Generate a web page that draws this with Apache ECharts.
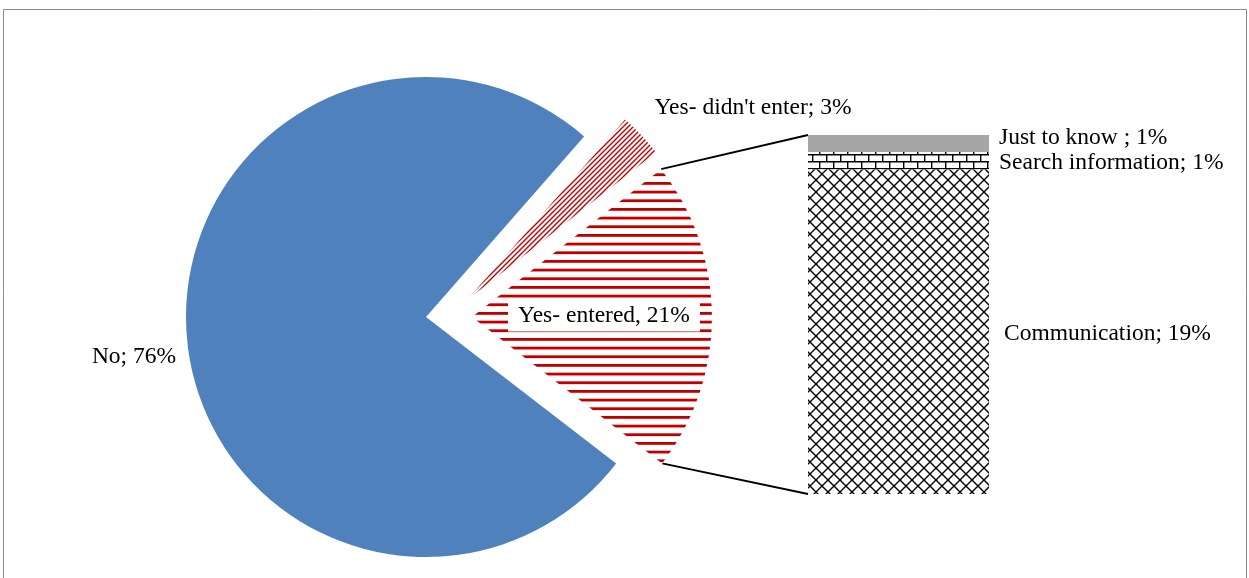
<!DOCTYPE html>
<html>
<head>
<meta charset="utf-8">
<script src="https://cdn.jsdelivr.net/npm/echarts@6/dist/echarts.min.js"></script>
<style>
html,body{margin:0;padding:0;background:#fff;}
#chart{width:1249px;height:578px;}
</style>
</head>
<body>
<div id="chart"></div>
<script>
// ---- data ----
const pieNames = ["No", "Yes- didn't enter", "Yes- entered"];
const pieValues = [76, 3, 21];
const pieSeparators = ["; ", "; ", ", "];
const barNames = ["Communication", "Search information", "Just to know "];
const barValues = [19, 1, 1];

// ---- patterns ----
function makeCanvas(w, h, draw) {
  const c = document.createElement('canvas');
  c.width = w; c.height = h;
  const ctx = c.getContext('2d');
  ctx.fillStyle = '#ffffff';
  ctx.fillRect(0, 0, w, h);
  draw(ctx, w, h);
  return c;
}
const hStripe = makeCanvas(8, 26, (ctx, w) => {
  ctx.fillStyle = '#C00000';
  [0, 8.67, 17.33].forEach(y => ctx.fillRect(0, y, w, 2.8));
});
const diagStripe = makeCanvas(5, 5, (ctx, w, h) => {
  ctx.strokeStyle = '#C00000';
  ctx.lineWidth = 1.4;
  ctx.beginPath();
  ctx.moveTo(-1, h + 1); ctx.lineTo(w + 1, -1);
  ctx.moveTo(-1, 1); ctx.lineTo(1, -1);
  ctx.moveTo(w - 1, h + 1); ctx.lineTo(w + 1, h - 1);
  ctx.stroke();
});
const brick = makeCanvas(14, 14, (ctx) => {
  ctx.strokeStyle = '#000';
  ctx.lineWidth = 1.4;
  ctx.beginPath();
  ctx.moveTo(0, 0.7); ctx.lineTo(14, 0.7);
  ctx.moveTo(0, 7.7); ctx.lineTo(14, 7.7);
  ctx.moveTo(0.7, 0); ctx.lineTo(0.7, 7);
  ctx.moveTo(7.7, 7); ctx.lineTo(7.7, 14);
  ctx.stroke();
});
const diamond = makeCanvas(12, 12, (ctx, w, h) => {
  ctx.strokeStyle = '#000';
  ctx.lineWidth = 1.4;
  ctx.beginPath();
  ctx.moveTo(0, 0); ctx.lineTo(w, h);
  ctx.moveTo(w, 0); ctx.lineTo(0, h);
  ctx.stroke();
});

const pieFills = ['#4F81BD', { image: diagStripe, repeat: 'repeat' }, { image: hStripe, repeat: 'repeat' }];
const barFills = [{ image: diamond, repeat: 'repeat' }, { image: brick, repeat: 'repeat' }, '#A6A6A6'];

// ---- layout ----
const FONT = 'Liberation Serif';
const FS = 23.5;
const R = 240;
const total = pieValues.reduce((a, b) => a + b, 0);
const EDGE = 48.8;                                   // upper edge of the "No" gap (degrees)
const START = (EDGE + 360 * pieValues[0] / total) % 360; // "No" starts here, clockwise
const pieCenters = [[426, 317], [467, 300], [472, 317]];
const pieLabelPos = [[134, 357], [753, 108], [604, 316]];

function pieSeries(visibleIdx) {
  return {
    type: 'pie',
    silent: true,
    center: pieCenters[visibleIdx],
    radius: R,
    startAngle: START,
    clockwise: true,
    avoidLabelOverlap: false,
    animation: false,
    labelLine: { show: false },
    labelLayout: function () {
      return { x: pieLabelPos[visibleIdx][0], y: pieLabelPos[visibleIdx][1], align: 'center', verticalAlign: 'middle' };
    },
    data: pieNames.map((n, i) => ({
      name: n,
      value: pieValues[i],
      itemStyle: { color: i === visibleIdx ? pieFills[i] : 'rgba(0,0,0,0)', borderWidth: 0 },
      label: i === visibleIdx ? {
        show: true,
        position: 'inside',
        formatter: n + pieSeparators[i] + pieValues[i] + '%',
        fontFamily: FONT, fontSize: FS, color: '#000',
        backgroundColor: i === 2 ? '#fff' : 'transparent',
        padding: i === 2 ? [4, 10, 3, 10] : 0
      } : { show: false }
    }))
  };
}

const barLabelCfg = [
  { distance: 15, offset: [0, 2.5] },
  { distance: 10, offset: [0, 2.5] },
  { distance: 10, offset: [0, -6] }
];

const chart = echarts.init(document.getElementById('chart'), null, { renderer: 'canvas' });
const GRID = { left: 808, top: 135, width: 181, height: 359 };
chart.setOption({
  animation: false,
  backgroundColor: '#fff',
  grid: GRID,
  xAxis: { type: 'category', data: ['bar'], show: false },
  yAxis: { type: 'value', min: 0, max: barValues.reduce((a, b) => a + b, 0), show: false },
  series: [
    pieSeries(0), pieSeries(1), pieSeries(2),
    ...barNames.map((n, i) => ({
      type: 'bar',
      name: n,
      stack: 'other',
      silent: true,
      barWidth: '100%',
      data: [barValues[i]],
      itemStyle: { color: barFills[i] },
      label: {
        show: true,
        position: 'right',
        distance: barLabelCfg[i].distance,
        offset: barLabelCfg[i].offset,
        formatter: '{a}; {c}%',
        fontFamily: FONT, fontSize: FS, color: '#000'
      }
    }))
  ]
});

// connector lines from the exploded slice to the bar corners
const a1 = EDGE - 360 * pieValues[1] / total;          // upper edge of "Yes- entered"
const a2 = a1 - 360 * pieValues[2] / total;            // lower edge
const c = pieCenters[2];
const rad = d => d * Math.PI / 180;
const p1 = [c[0] + R * Math.cos(rad(a1)), c[1] - R * Math.sin(rad(a1))];
const p2 = [c[0] + R * Math.cos(rad(a2)), c[1] - R * Math.sin(rad(a2))];
const topY = chart.convertToPixel({ yAxisIndex: 0 }, barValues.reduce((a, b) => a + b, 0));
const botY = chart.convertToPixel({ yAxisIndex: 0 }, 0);
const leftX = chart.convertToPixel({ xAxisIndex: 0 }, 'bar') - GRID.width / 2;

chart.setOption({
  graphic: [
    { type: 'rect', silent: true, shape: { x: 3.5, y: 9.5, width: 1243, height: 620 },
      style: { fill: 'none', stroke: '#8c8c8c', lineWidth: 1 } },
    { type: 'line', silent: true, shape: { x1: p1[0], y1: p1[1], x2: leftX, y2: topY },
      style: { stroke: '#000', lineWidth: 1.8 } },
    { type: 'line', silent: true, shape: { x1: p2[0], y1: p2[1], x2: leftX, y2: botY },
      style: { stroke: '#000', lineWidth: 1.8 } }
  ]
});
</script>
</body>
</html>
